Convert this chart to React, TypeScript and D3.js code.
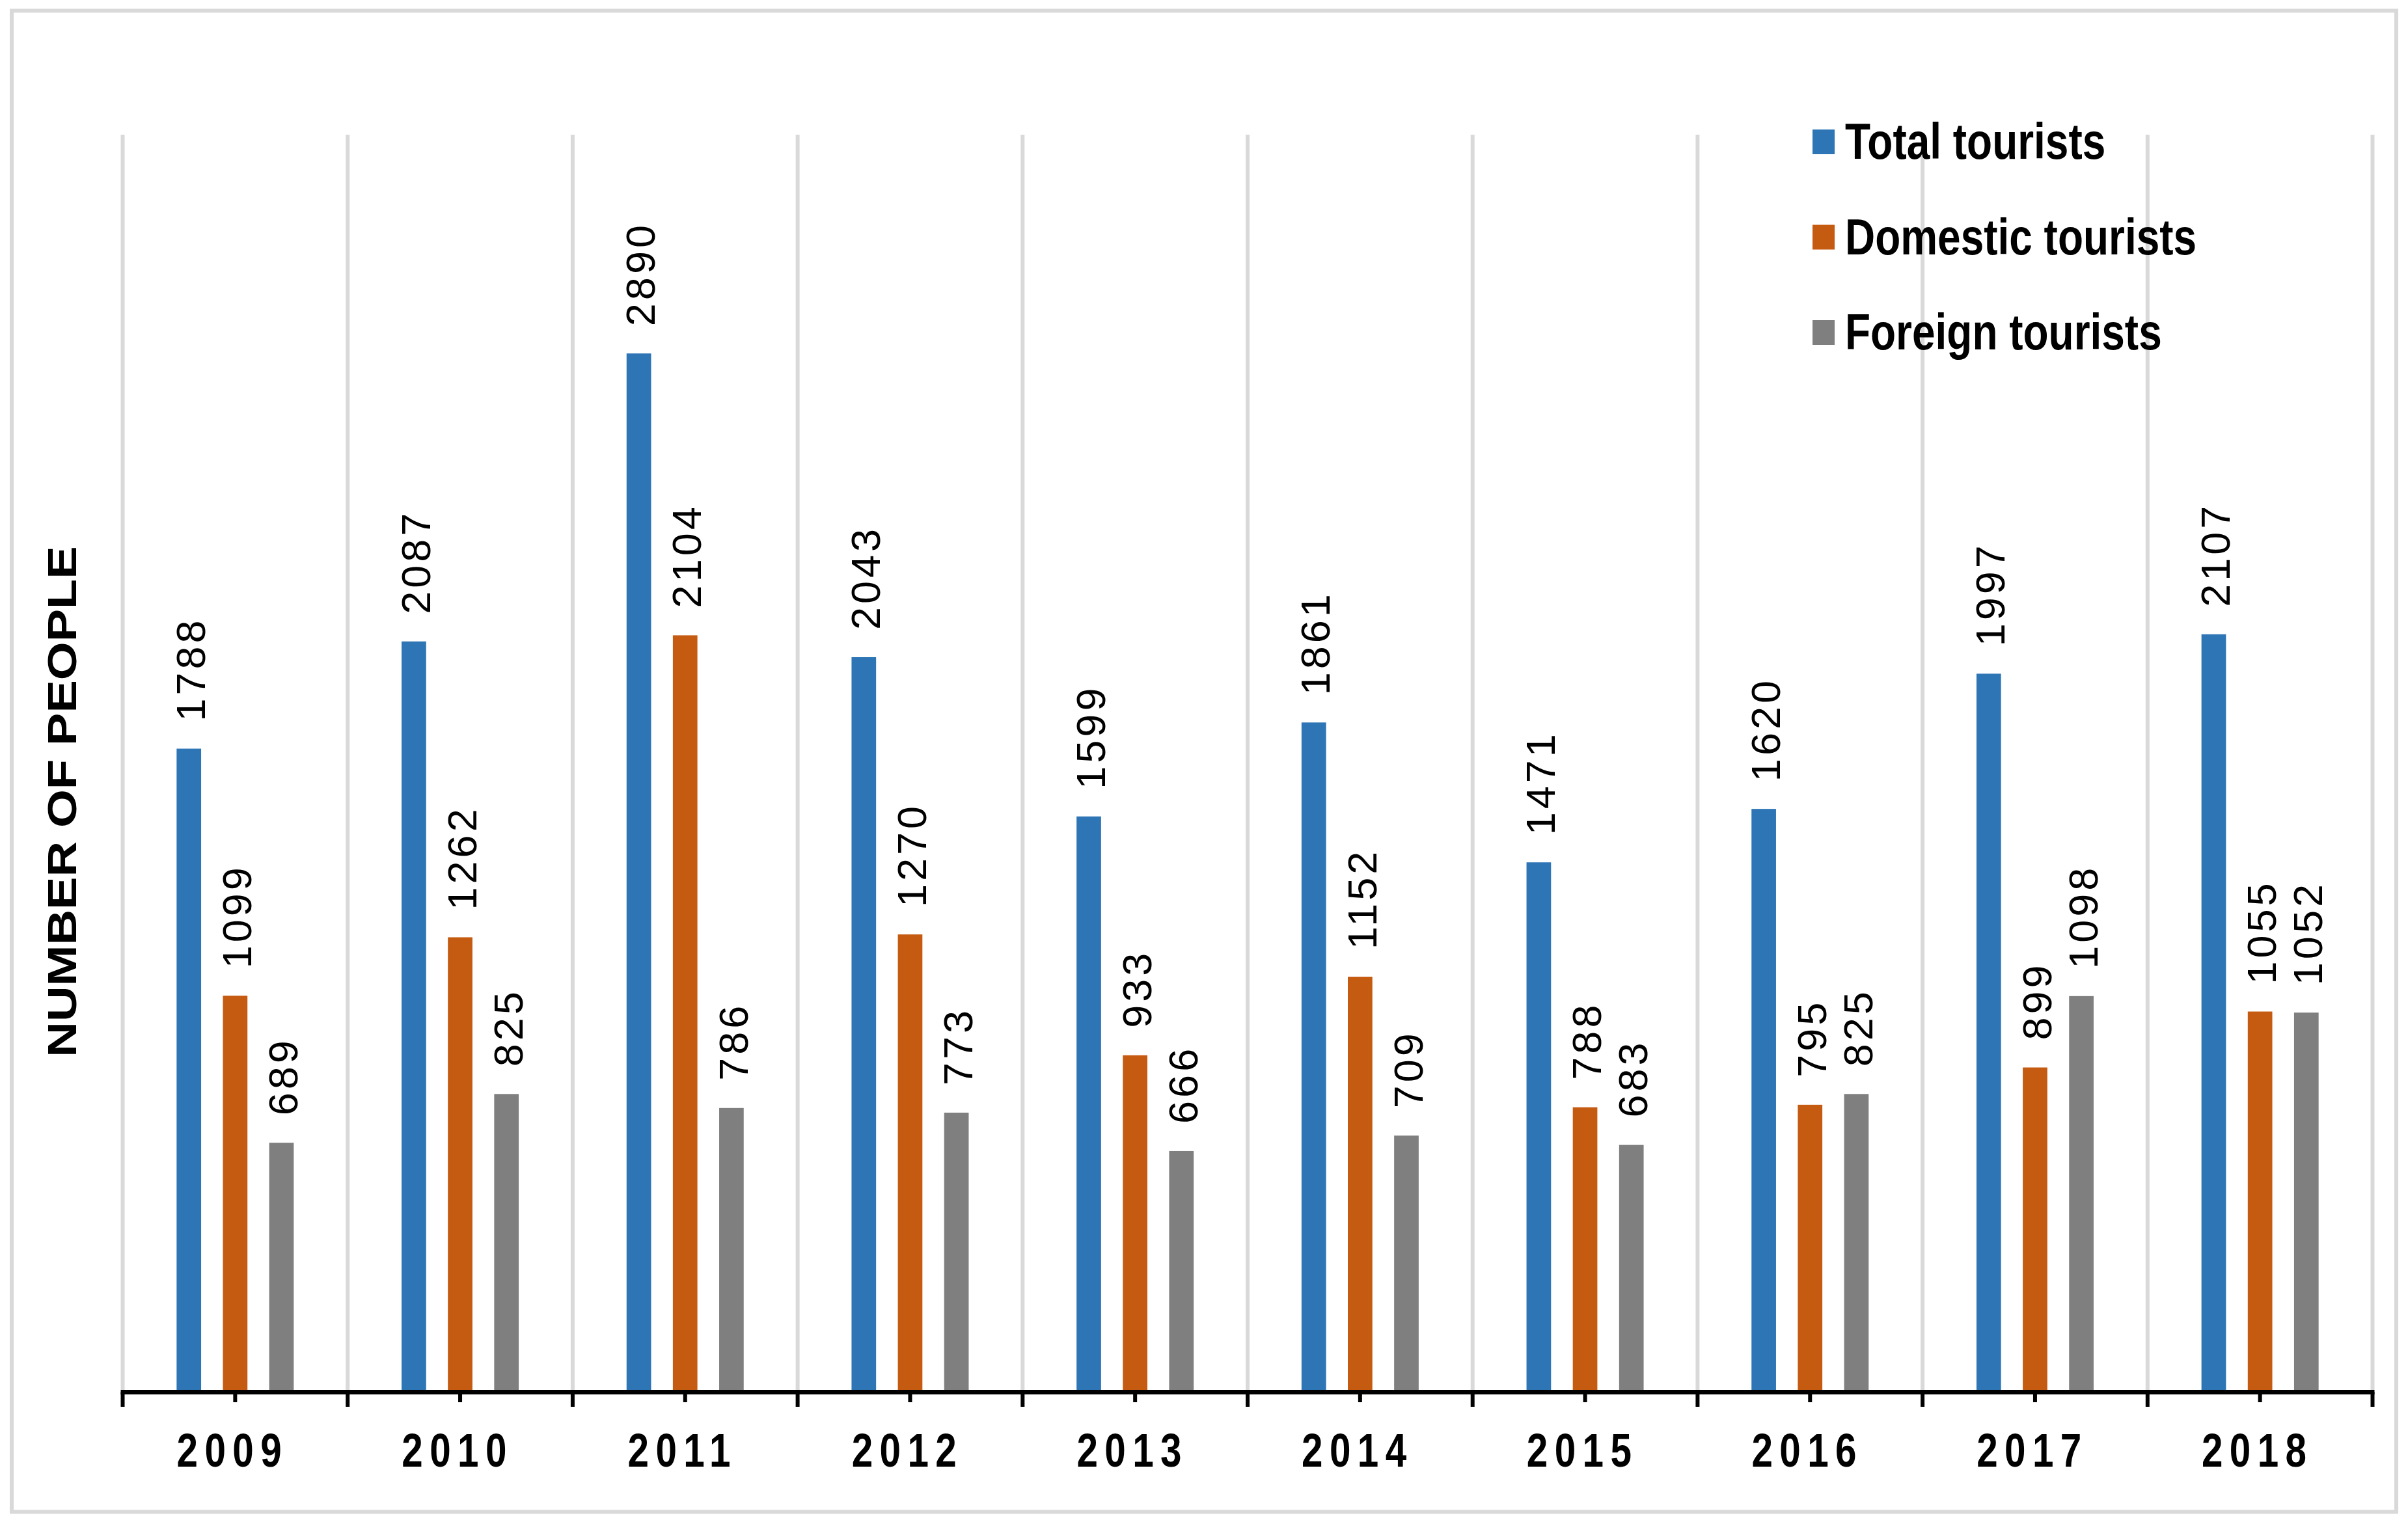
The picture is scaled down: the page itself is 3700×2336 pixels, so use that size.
import React, { useEffect } from 'react'
import * as d3 from 'd3'

const years = ['2009', '2010', '2011', '2012', '2013', '2014', '2015', '2016', '2017', '2018']
const seriesNames = ['Total tourists', 'Domestic tourists', 'Foreign tourists']
const totalTourists = [1788, 2087, 2890, 2043, 1599, 1861, 1471, 1620, 1997, 2107]
const domesticTourists = [1099, 1262, 2104, 1270, 933, 1152, 788, 795, 899, 1055]
const foreignTourists = [689, 825, 786, 773, 666, 709, 683, 825, 1098, 1052]
const seriesColors = ['#2e75b6', '#c55a11', '#7f7f7f']
const yDomainMax = 3500

const W = 3700
const H = 2336
const FONT = "'Liberation Sans', Arial, Helvetica, sans-serif"

export default function App() {
  useEffect(() => {
    document.body.style.margin = '0'
  }, [])

  // plot area
  const plot = { left: 188.5, right: 3645.5, top: 207, bottom: 2136 }

  const x0 = d3.scaleBand<string>().domain(years).range([plot.left, plot.right]).padding(0)
  const groupHalf = 90
  const x1 = d3.scaleBand<string>().domain(seriesNames).range([-groupHalf, groupHalf]).paddingInner(0.47).paddingOuter(0)
  const y = d3.scaleLinear().domain([0, yDomainMax]).range([plot.bottom, plot.top])

  const seriesValues = [totalTourists, domesticTourists, foreignTourists]
  const boundaries = years.map(yr => x0(yr)!).concat([plot.right])
  const centers = years.map(yr => x0(yr)! + x0.bandwidth() / 2)

  const axisY = plot.bottom + 3.5
  const grey = '#d9d9d9'

  return (
    <div style={{ position: 'absolute', left: 0, top: 0 }}>
      <svg width={W} height={H} viewBox={`0 0 ${W} ${H}`} style={{ display: 'block', background: '#fff' }}>
        {/* outer frame */}
        <rect x={18} y={16.5} width={3664} height={2307} fill="#fff" stroke={grey} strokeWidth={6} />

        {/* vertical gridlines at category boundaries */}
        {boundaries.map((bx, i) => (
          <line key={'g' + i} x1={bx} x2={bx} y1={plot.top} y2={plot.bottom} stroke={grey} strokeWidth={6} />
        ))}

        {/* bars */}
        {years.map((yr, i) => (
          <g key={yr} transform={`translate(${centers[i]},0)`}>
            {seriesNames.map((s, k) => {
              const v = seriesValues[k][i]
              const bx = x1(s)!
              return (
                <rect key={s} x={bx} y={y(v)} width={x1.bandwidth()} height={y(0) - y(v)} fill={seriesColors[k]} />
              )
            })}
            {seriesNames.map((s, k) => {
              const v = seriesValues[k][i]
              const cx = x1(s)! + x1.bandwidth() / 2 + 2
              const ty = y(v) - 42
              return (
                <text
                  key={'l' + s}
                  transform={`translate(${cx},${ty}) rotate(-90)`}
                  dy="0.36em"
                  textAnchor="start"
                  fontFamily={FONT}
                  fontSize={63}
                  letterSpacing={5}
                  fill="#000"
                >
                  {v}
                </text>
              )
            })}
          </g>
        ))}

        {/* x axis line */}
        <line x1={plot.left - 3} x2={plot.right + 3} y1={axisY} y2={axisY} stroke="#000" strokeWidth={7} />
        {boundaries.map((bx, i) => (
          <line key={'t' + i} x1={bx} x2={bx} y1={axisY} y2={2162} stroke="#000" strokeWidth={6} />
        ))}
        {centers.map((cx, i) => (
          <line key={'m' + i} x1={cx} x2={cx} y1={axisY} y2={2155} stroke="#000" strokeWidth={6} />
        ))}

        {/* category labels */}
        {years.map((yr, i) => (
          <text
            key={'c' + yr}
            transform={`translate(${centers[i] - 4},2254) scale(0.8,1)`}
            textAnchor="middle"
            fontFamily={FONT}
            fontWeight="bold"
            fontSize={73}
            letterSpacing={13}
            fill="#000"
          >
            {yr}
          </text>
        ))}

        {/* y axis title */}
        <text
          transform={`translate(94.5,1232) rotate(-90) scale(1.2,1)`}
          dy="0.36em"
          textAnchor="middle"
          fontFamily={FONT}
          fontWeight="bold"
          fontSize={63}
          fill="#000"
        >
          NUMBER OF PEOPLE
        </text>

        {/* legend */}
        {seriesNames.map((s, k) => {
          const base = 244 + k * 146.5
          return (
            <g key={'lg' + s}>
              <rect x={2785} y={base - 45} width={34} height={38} fill={seriesColors[k]} />
              <text
                transform={`translate(2835,${base}) scale(0.82,1)`}
                fontFamily={FONT}
                fontWeight="bold"
                fontSize={78}
                fill="#000"
              >
                {s}
              </text>
            </g>
          )
        })}
      </svg>
    </div>
  )
}
